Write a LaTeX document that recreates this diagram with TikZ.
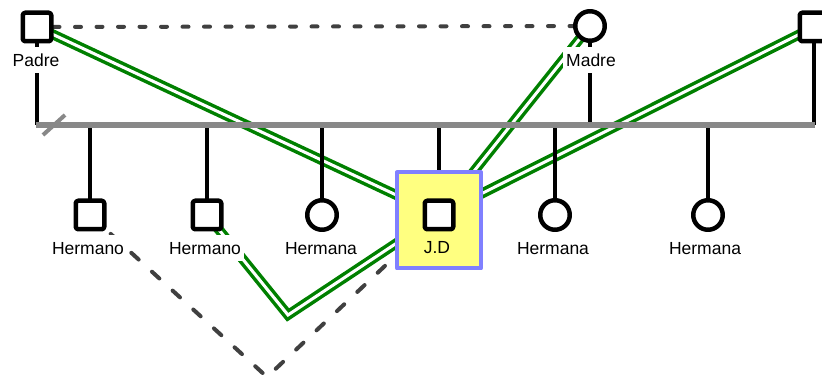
\documentclass[tikz,border=0pt]{standalone}
\usepackage{fontspec}
\setmainfont{Liberation Sans}
\definecolor{relgreen}{RGB}{0,128,0}
\definecolor{reldash}{RGB}{64,64,64}
\definecolor{sibgray}{RGB}{136,136,136}
\definecolor{jdyellow}{RGB}{255,255,128}
\definecolor{jdblue}{RGB}{128,128,255}
\pgfdeclarelayer{rel}
\pgfdeclarelayer{kinlines}
\pgfsetlayers{rel,kinlines,main}
\begin{document}
\begin{tikzpicture}[x=1pt,y=-1pt,line join=round,
		male/.style={draw,rectangle,rounded corners=2.5pt,line width=4.5pt,fill=white,minimum size=28.5pt,inner sep=0pt},
		female/.style={draw,circle,line width=4.5pt,fill=white,minimum size=29.5pt,inner sep=0pt},
		index/.style={draw=jdblue,fill=jdyellow,line width=4pt,minimum width=84pt,minimum height=96pt,inner sep=0pt},
		lbl/.style={anchor=base,fill=white,inner xsep=3pt,inner ysep=2pt,text height=18pt,text depth=4pt,font=\fontsize{17.5}{20}\selectfont},
		kin/.style={line width=4pt},
		sib/.style={draw=sibgray,line width=5.5pt},
		close/.style={draw=relgreen,line width=3.5pt,double=white,double distance=3pt,line join=miter},
		distant/.style={draw=reldash,line width=4pt,line cap=round,dash pattern=on 10pt off 18pt},
		spouse/.style={draw=reldash,line width=4pt,line cap=round,dash pattern=on 6pt off 15.5pt}]
			\useasboundingbox (0,0) rectangle (822,379);
			\clip (0,0) rectangle (822,379);
			\node[male] (padre) at (37,27) {};
			\node[female] (madre) at (590,26) {};
			\node[male] (pareja) at (814,27) {};
			\node[male] (h1) at (90,215) {};
			\node[male] (h2) at (207,215) {};
			\node[female] (h3) at (322,215) {};
			\node[index] (jdbox) at (439,220.5) {};
			\node[male] (jd) at (439,215) {};
			\node[female] (h5) at (555,215) {};
			\node[female] (h6) at (708,215) {};
			\coordinate (sl) at (36,125);
			\coordinate (sr) at (815,125);
			\coordinate (bendc) at (288,315);
			\coordinate (bendd) at (267,377);
			\node[lbl] (lpadre) at (36,67) {Padre};
			\node[lbl] (lmadre) at (591,67) {Madre};
			\node[lbl] (lh1) at (88,255) {Hermano};
			\node[lbl] (lh2) at (205,255) {Hermano};
			\node[lbl] (lh3) at (321,255) {Hermana};
			\node[lbl,fill=none] (ljd) at (437,254) {J.D};
			\node[lbl] (lh5) at (553,255) {Hermana};
			\node[lbl] (lh6) at (705,255) {Hermana};
			\begin{pgfonlayer}{rel}
				\draw[spouse] (padre) -- (madre);
				\draw[close] (padre.center) -- (jd.center);
				\draw[close] (madre.center) -- (jd.center);
				\draw[close] (pareja.center) -- (jd.center);
				\draw[close] (h2.center) -- (bendc) -- (jd.center);
				\draw[distant] (h1.center) -- (bendd) -- (jd.center);
			\end{pgfonlayer}
			\begin{pgfonlayer}{kinlines}
				\draw[kin] (padre.center) -- (padre.center |- sl);
				\draw[kin] (madre.center) -- (madre.center |- sl);
				\draw[kin] (pareja.center) -- (pareja.center |- sr);
				\foreach \k in {h1,h2,h3,jd,h5,h6}
					\draw[kin] (\k.center) -- (\k.center |- sl);
				\draw[sib] (sl) -- (sr);
				\draw[sib,line width=4pt] (43,135) -- (65,115);
			\end{pgfonlayer}
		\end{tikzpicture}
\end{document}
